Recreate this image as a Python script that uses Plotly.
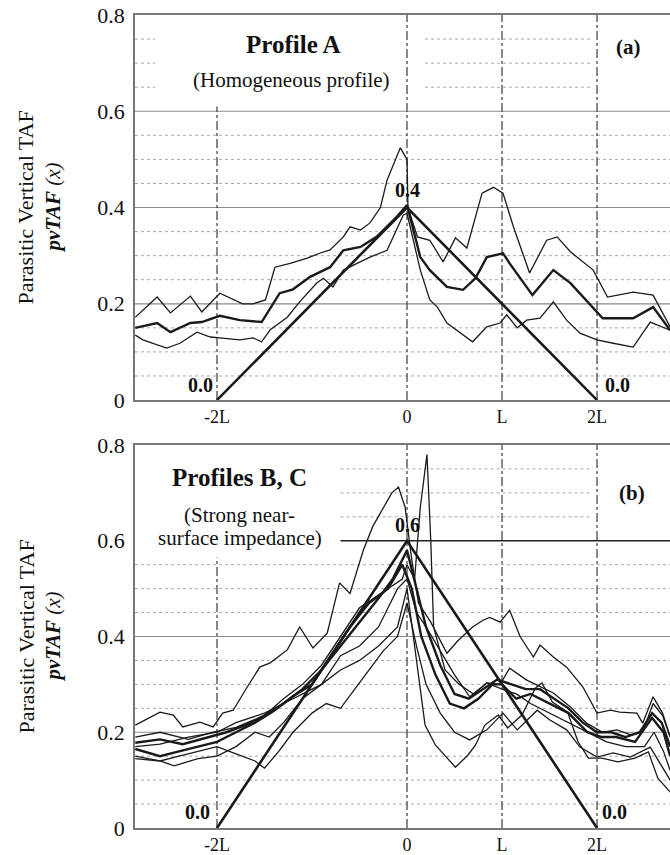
import plotly.graph_objects as go

# ---------------- data (x in units of L) ----------------
tri_x = [-2, 0, 2]
tri_a_y = [0, 0.4, 0]
tri_b_y = [0, 0.6, 0]

a1_x = [-2.86, -2.63, -2.49, -2.28, -2.16, -1.97, -1.73, -1.62, -1.49, -1.39, -1.23, -1.05, -0.92, -0.81,
        -0.67, -0.60, -0.49, -0.39, -0.28, -0.21, -0.07, 0.0, 0.01, 0.11, 0.24, 0.38, 0.51, 0.63, 0.79,
        0.91, 1.01, 1.12, 1.29, 1.47, 1.58, 1.72, 1.96, 2.11, 2.38, 2.59, 2.77]
a1_y = [0.172, 0.214, 0.181, 0.216, 0.183, 0.222, 0.200, 0.200, 0.208, 0.276, 0.284, 0.295, 0.305, 0.312,
        0.339, 0.360, 0.353, 0.368, 0.400, 0.457, 0.524, 0.500, 0.400, 0.339, 0.332, 0.287, 0.337, 0.316,
        0.430, 0.442, 0.430, 0.360, 0.264, 0.332, 0.339, 0.308, 0.270, 0.214, 0.224, 0.218, 0.152]

a2_x = [-2.86, -2.63, -2.49, -2.28, -2.16, -1.97, -1.76, -1.53, -1.34, -1.20, -1.02, -0.81, -0.67, -0.49,
        -0.32, -0.11, 0.0, 0.14, 0.24, 0.42, 0.59, 0.72, 0.84, 1.01, 1.08, 1.32, 1.54, 1.72, 2.06, 2.38,
        2.59, 2.77]
a2_y = [0.150, 0.160, 0.141, 0.160, 0.162, 0.175, 0.166, 0.162, 0.222, 0.230, 0.256, 0.276, 0.311, 0.318,
        0.339, 0.380, 0.405, 0.297, 0.270, 0.235, 0.229, 0.253, 0.297, 0.305, 0.284, 0.218, 0.270, 0.243,
        0.170, 0.170, 0.193, 0.145]

a3_x = [-2.86, -2.78, -2.53, -2.39, -2.21, -2.07, -1.97, -1.76, -1.62, -1.53, -1.44, -1.26, -1.13, -0.95,
        -0.88, -0.78, -0.67, -0.53, -0.39, -0.21, -0.11, -0.04, 0.0, 0.14, 0.24, 0.32, 0.42, 0.56, 0.69,
        0.84, 0.98, 1.05, 1.16, 1.26, 1.40, 1.54, 1.68, 1.82, 2.00, 2.17, 2.38, 2.56, 2.77]
a3_y = [0.135, 0.125, 0.108, 0.118, 0.141, 0.131, 0.129, 0.125, 0.129, 0.121, 0.146, 0.172, 0.204, 0.243,
        0.253, 0.235, 0.270, 0.284, 0.297, 0.311, 0.353, 0.384, 0.388, 0.270, 0.208, 0.193, 0.160, 0.139,
        0.121, 0.152, 0.160, 0.177, 0.150, 0.166, 0.170, 0.204, 0.166, 0.139, 0.125, 0.118, 0.110, 0.162,
        0.145]

b1_x = [-2.86, -2.60, -2.46, -2.36, -2.18, -2.04, -1.94, -1.83, -1.68, -1.55, -1.44, -1.26, -1.13, -0.99,
        -0.84, -0.71, -0.60, -0.46, -0.36, -0.25, -0.16, -0.09, -0.02, 0.05, 0.12, 0.25, 0.42, 0.53, 0.69,
        0.80, 0.87, 0.98, 1.08, 1.19, 1.33, 1.40, 1.54, 1.68, 1.85, 2.00, 2.14, 2.24, 2.42, 2.48, 2.59,
        2.69, 2.77]
b1_y = [0.215, 0.242, 0.236, 0.211, 0.221, 0.211, 0.240, 0.246, 0.295, 0.336, 0.345, 0.372, 0.420, 0.376,
        0.407, 0.512, 0.490, 0.580, 0.630, 0.670, 0.700, 0.712, 0.670, 0.560, 0.470, 0.430, 0.365, 0.390,
        0.420, 0.434, 0.440, 0.430, 0.455, 0.400, 0.357, 0.382, 0.357, 0.336, 0.295, 0.240, 0.246, 0.242,
        0.240, 0.219, 0.274, 0.240, 0.190]

b2_x = [-2.86, -2.60, -2.30, -2.04, -1.80, -1.50, -1.30, -1.10, -0.90, -0.70, -0.50, -0.35, -0.20, -0.05,
        0.0, 0.08, 0.14, 0.21, 0.25, 0.28, 0.40, 0.55, 0.70, 0.84, 0.98, 1.08, 1.26, 1.40, 1.54, 1.72,
        1.89, 2.06, 2.21, 2.35, 2.48, 2.59, 2.69, 2.77]
b2_y = [0.190, 0.200, 0.185, 0.200, 0.210, 0.235, 0.270, 0.300, 0.340, 0.400, 0.460, 0.480, 0.500, 0.520,
        0.550, 0.520, 0.670, 0.780, 0.600, 0.420, 0.330, 0.300, 0.280, 0.303, 0.300, 0.334, 0.309, 0.295,
        0.282, 0.253, 0.219, 0.200, 0.205, 0.195, 0.200, 0.260, 0.235, 0.190]

b3_x = [-2.86, -2.60, -2.36, -2.10, -1.90, -1.70, -1.50, -1.30, -1.10, -0.90, -0.70, -0.50, -0.30, -0.15,
        0.0, 0.10, 0.20, 0.35, 0.50, 0.65, 0.80, 0.95, 1.10, 1.25, 1.40, 1.55, 1.70, 1.85, 2.00, 2.15,
        2.30, 2.45, 2.58, 2.68, 2.77]
b3_y = [0.178, 0.185, 0.175, 0.190, 0.200, 0.215, 0.235, 0.260, 0.290, 0.330, 0.380, 0.430, 0.480, 0.520,
        0.580, 0.500, 0.420, 0.340, 0.280, 0.270, 0.290, 0.310, 0.300, 0.290, 0.290, 0.270, 0.250, 0.220,
        0.200, 0.200, 0.190, 0.200, 0.240, 0.220, 0.170]

b4_x = [-2.86, -2.60, -2.40, -2.20, -2.00, -1.80, -1.60, -1.40, -1.20, -1.00, -0.80, -0.60, -0.40, -0.20,
        -0.05, 0.05, 0.15, 0.30, 0.45, 0.60, 0.75, 0.90, 1.00, 1.15, 1.30, 1.50, 1.70, 1.90, 2.05, 2.20,
        2.40, 2.58, 2.70, 2.77]
b4_y = [0.165, 0.150, 0.160, 0.170, 0.180, 0.200, 0.220, 0.245, 0.275, 0.300, 0.360, 0.420, 0.470, 0.500,
        0.550, 0.500, 0.400, 0.320, 0.260, 0.250, 0.270, 0.300, 0.300, 0.270, 0.280, 0.260, 0.240, 0.200,
        0.190, 0.190, 0.180, 0.230, 0.200, 0.150]

b5_x = [-2.86, -2.60, -2.45, -2.20, -2.00, -1.80, -1.60, -1.45, -1.30, -1.10, -0.90, -0.70, -0.50, -0.30,
        -0.10, 0.0, 0.10, 0.19, 0.30, 0.51, 0.64, 0.72, 0.82, 0.96, 1.06, 1.21, 1.35, 1.42, 1.53, 1.69,
        1.80, 1.91, 2.05, 2.22, 2.40, 2.54, 2.64, 2.77]
b5_y = [0.150, 0.140, 0.130, 0.145, 0.150, 0.170, 0.200, 0.190, 0.220, 0.270, 0.300, 0.330, 0.350, 0.380,
        0.420, 0.500, 0.350, 0.215, 0.173, 0.127, 0.152, 0.173, 0.215, 0.236, 0.209, 0.236, 0.292, 0.303,
        0.263, 0.242, 0.180, 0.146, 0.146, 0.138, 0.146, 0.159, 0.104, 0.075]

b6_x = [-2.86, -2.60, -2.40, -2.20, -2.00, -1.80, -1.60, -1.50, -1.35, -1.20, -1.00, -0.85, -0.70, -0.55,
        -0.40, -0.25, -0.10, 0.0, 0.10, 0.20, 0.35, 0.50, 0.66, 0.84, 1.01, 1.16, 1.37, 1.50, 1.68, 1.82,
        2.00, 2.17, 2.35, 2.56, 2.66, 2.77]
b6_y = [0.145, 0.140, 0.150, 0.160, 0.170, 0.155, 0.140, 0.125, 0.160, 0.200, 0.240, 0.260, 0.250, 0.290,
        0.330, 0.370, 0.400, 0.470, 0.380, 0.300, 0.240, 0.200, 0.184, 0.205, 0.240, 0.205, 0.246, 0.226,
        0.205, 0.169, 0.148, 0.157, 0.148, 0.169, 0.136, 0.100]

b7_x = [-2.86, -2.60, -2.30, -2.00, -1.80, -1.50, -1.30, -1.10, -0.90, -0.70, -0.50, -0.30, -0.10, 0.0,
        0.10, 0.20, 0.35, 0.50, 0.66, 0.84, 1.00, 1.15, 1.30, 1.50, 1.70, 1.90, 2.10, 2.30, 2.50, 2.60,
        2.70, 2.77]
b7_y = [0.170, 0.175, 0.190, 0.200, 0.220, 0.240, 0.260, 0.280, 0.300, 0.360, 0.380, 0.420, 0.500, 0.520,
        0.450, 0.420, 0.370, 0.320, 0.274, 0.303, 0.290, 0.280, 0.260, 0.240, 0.220, 0.200, 0.180, 0.170,
        0.170, 0.200, 0.160, 0.120]

x_tick_vals = [-2, 0, 1, 2]
x_tick_text = ["-2L", "0", "L", "2L"]
y_tick_vals = [0, 0.2, 0.4, 0.6, 0.8]
y_tick_text = ["0", "0.2", "0.4", "0.6", "0.8"]

# ---------------- figure ----------------
FONT = "Liberation Serif, Times New Roman, serif"
XR = [-2.863, 2.768]
THIN = 1.3
THICK = 2.4
INK = "#1a1a1a"

fig = go.Figure()

def add_line(x, y, w, xa, ya):
    fig.add_trace(go.Scatter(x=x, y=y, mode="lines", xaxis=xa, yaxis=ya,
                             line=dict(color=INK, width=w), showlegend=False, hoverinfo="skip"))

add_line(a1_x, a1_y, THIN, "x", "y")
add_line(a2_x, a2_y, THICK, "x", "y")
add_line(a3_x, a3_y, THIN, "x", "y")
add_line(tri_x, tri_a_y, 2.6, "x", "y")

add_line(b1_x, b1_y, THIN, "x2", "y2")
add_line(b2_x, b2_y, THIN, "x2", "y2")
add_line(b5_x, b5_y, THIN, "x2", "y2")
add_line(b6_x, b6_y, THIN, "x2", "y2")
add_line(b7_x, b7_y, THIN, "x2", "y2")
add_line(b3_x, b3_y, THICK, "x2", "y2")
add_line(b4_x, b4_y, THICK, "x2", "y2")
add_line(tri_x, tri_b_y, 2.6, "x2", "y2")

shapes = []
GRID = "#8a8a8a"
MINOR = "#a8a8a8"
VLINE = "#4a4a4a"

def hline(xr, yr, y, x0, x1, color, width, dash):
    shapes.append(dict(type="line", xref=xr, yref=yr, x0=x0, x1=x1, y0=y, y1=y, layer="below",
                       line=dict(color=color, width=width, dash=dash)))

def vline(xr, yr, x, y0, y1):
    shapes.append(dict(type="line", xref=xr, yref=yr, x0=x, x1=x, y0=y0, y1=y1, layer="below",
                       line=dict(color=VLINE, width=1.3, dash="dashdot")))

minor_levels = [0.05, 0.1, 0.15, 0.25, 0.3, 0.35, 0.45, 0.5, 0.55]
top_levels = [0.65, 0.7, 0.75]
for lv in minor_levels:
    hline("x", "y", lv, XR[0], XR[1], MINOR, 1, "dot")
    hline("x2", "y2", lv, XR[0], XR[1], MINOR, 1, "dot")
for lv in top_levels:
    hline("x", "y", lv, XR[0], -2.65, MINOR, 1, "dot")
    hline("x", "y", lv, 0.19, 1.93, MINOR, 1, "dot")
    hline("x2", "y2", lv, -0.7, 1.93, MINOR, 1, "dot")
for lv in [0.2, 0.4, 0.6]:
    hline("x", "y", lv, XR[0], XR[1], GRID, 1.2, "solid")
for lv in [0.2, 0.4]:
    hline("x2", "y2", lv, XR[0], XR[1], GRID, 1.2, "solid")
hline("x2", "y2", 0.6, -0.7, XR[1], "#222222", 1.3, "solid")

vline("x", "y", -2, 0, 0.61)
vline("x2", "y2", -2, 0, 0.565)
for xv in [0, 1, 2]:
    vline("x", "y", xv, 0, 0.8)
    vline("x2", "y2", xv, 0, 0.8)

ann = []
def text(xr, yr, x, y, t, size, bold=False, **kw):
    if bold:
        t = "<b>" + t + "</b>"
    d = dict(xref=xr, yref=yr, x=x, y=y, text=t, showarrow=False,
             font=dict(family=FONT, size=size, color="#111"))
    d.update(kw)
    ann.append(d)

# panel a
text("x", "y", -1.2, 0.738, "Profile A", 25, True)
text("x", "y", -1.22, 0.665, "(Homogeneous profile)", 21)
text("x", "y", 2.33, 0.733, "(a)", 21, True)
text("x", "y", 0.0, 0.436, "0.4", 20, True)
text("x", "y", -2.17, 0.032, "0.0", 20, True)
text("x", "y", 2.22, 0.032, "0.0", 20, True)
# panel b
text("x2", "y2", -1.76, 0.733, "Profiles B, C", 25, True)
text("x2", "y2", -1.76, 0.654, "(Strong near-", 21)
text("x2", "y2", -1.76, 0.606, "surface impedance)", 21)
text("x2", "y2", 2.37, 0.700, "(b)", 21, True)
text("x2", "y2", 0.0, 0.633, "0.6", 20, True)
text("x2", "y2", -2.2, 0.034, "0.0", 20, True)
text("x2", "y2", 2.18, 0.034, "0.0", 20, True)

# y titles
PW = 535.0
for yr in ["y", "y2"]:
    text("paper", yr, (26 - 135) / PW, 0.4, "Parasitic Vertical TAF", 22, textangle=-90, xanchor="center")
    text("paper", yr, (53 - 135) / PW, 0.4, "<b><i>pvTAF</i></b><i> (x)</i>", 21, textangle=-90,
         xanchor="center")

axis_common_x = dict(range=XR, showgrid=False, zeroline=False, showline=True, mirror=True,
                     linecolor="#777", linewidth=1.5, tickmode="array", tickvals=x_tick_vals,
                     ticktext=x_tick_text, ticks="", tickfont=dict(family=FONT, size=18, color="#111"),
                     automargin=False, ticklabelstandoff=0)
axis_common_y = dict(range=[0, 0.8], showgrid=False, zeroline=False, showline=True, mirror=False,
                     linecolor="#777", linewidth=1.5, tickmode="array", tickvals=y_tick_vals,
                     ticktext=y_tick_text, ticks="", tickfont=dict(family=FONT, size=22, color="#111"),
                     automargin=False, ticklabelstandoff=4)

fig.update_layout(
    width=670, height=855,
    margin=dict(l=135, r=0, t=15, b=27),
    paper_bgcolor="white", plot_bgcolor="white",
    xaxis=dict(anchor="y", domain=[0, 1], **axis_common_x),
    yaxis=dict(anchor="x", domain=[0.5264, 1], **axis_common_y),
    xaxis2=dict(anchor="y2", domain=[0, 1], **axis_common_x),
    yaxis2=dict(anchor="x2", domain=[0, 0.4711], **axis_common_y),
    shapes=shapes, annotations=ann, showlegend=False,
)

fig.write_html("out.html")
